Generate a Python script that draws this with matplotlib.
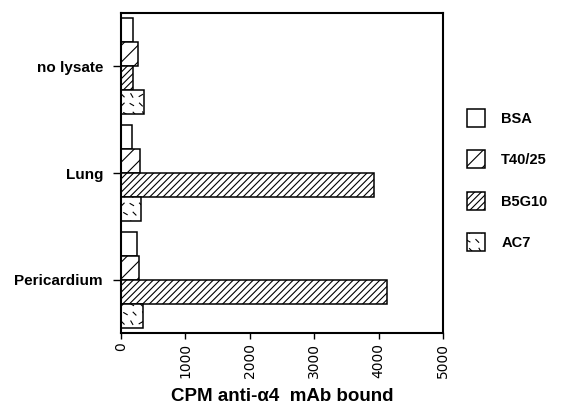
import numpy as np
import warnings
import matplotlib
matplotlib.use('Agg')
import matplotlib.pyplot as plt
import matplotlib.hatch as mhatch
from matplotlib.path import Path

warnings.filterwarnings('ignore')

groups = ['no lysate', 'Lung', 'Pericardium']
series = ['BSA', 'T40/25', 'B5G10', 'AC7']
bsa = [180, 165, 250]
t4025 = [260, 295, 285]
b5g10 = [180, 3930, 4130]
ac7 = [360, 310, 335]
xticks = [0, 1000, 2000, 3000, 4000, 5000]


# short scattered dashes, like the AC7 fill in the original
class DashHatch(mhatch.HatchPatternBase):
    def __init__(self, hatch, density):
        self.n = 11 if 'd' in hatch else 0
        self.num_vertices = self.n * self.n * 2
        self.filled = False

    def set_vertices_and_codes(self, vertices, codes):
        angles = np.radians([45, 120, 70, 150, 30, 100, 135, 60])
        half = 0.02
        k = 0
        step = 1.0 / self.n
        for i in range(self.n):
            for j in range(self.n):
                cx = (i + 0.5) * step + (0.3 * step if j % 2 else 0)
                cy = (j + 0.5) * step
                a = angles[(i * 3 + j * 5) % len(angles)]
                dx, dy = half * np.cos(a), half * np.sin(a)
                vertices[k] = (cx - dx, cy - dy)
                vertices[k + 1] = (cx + dx, cy + dy)
                codes[k] = Path.MOVETO
                codes[k + 1] = Path.LINETO
                k += 2


mhatch._hatch_types.append(DashHatch)

plt.rcParams['font.family'] = ['Liberation Sans', 'DejaVu Sans']
plt.rcParams['hatch.linewidth'] = 0.8

fig = plt.figure(figsize=(5.67, 4.07), dpi=100)
ax = fig.add_axes([0.2134, 0.1818, 0.5679, 0.7862])

h = 0.225
y = np.arange(len(groups))
hatches = ['', '//', '/////', 'd']
for k, (name, vals) in enumerate(zip(series, [bsa, t4025, b5g10, ac7])):
    ax.barh(y + (k - 1.5) * h, vals, height=h, color='white', edgecolor='black',
            linewidth=1.1, hatch=hatches[k], label=name)

ax.set_ylim(2.5, -0.5)
ax.set_xlim(0, 5000)
ax.set_yticks(y)
ax.set_yticklabels(groups, fontsize=11, fontweight='bold')
ax.set_xticks(xticks)
ax.set_xticklabels([str(v) for v in xticks], rotation=90, fontsize=10,
                   family='DejaVu Sans')
ax.tick_params(axis='y', length=6, width=1, pad=7)
ax.tick_params(axis='x', length=4, width=1, pad=3)
for s in ax.spines.values():
    s.set_linewidth(1.5)
ax.set_xlabel('CPM anti-\u03b1' + '4  mAb bound', fontsize=13.5, fontweight='bold', labelpad=7)

leg = fig.legend(loc='upper left', bbox_to_anchor=(0.8236, 0.732), frameon=False,
                 fontsize=10.5, handlelength=1.25, handleheight=1.5, labelspacing=1.62,
                 handletextpad=1.1, borderpad=0, borderaxespad=0)
for t in leg.get_texts():
    t.set_fontweight('bold')

fig.savefig('out.png', dpi=100)
